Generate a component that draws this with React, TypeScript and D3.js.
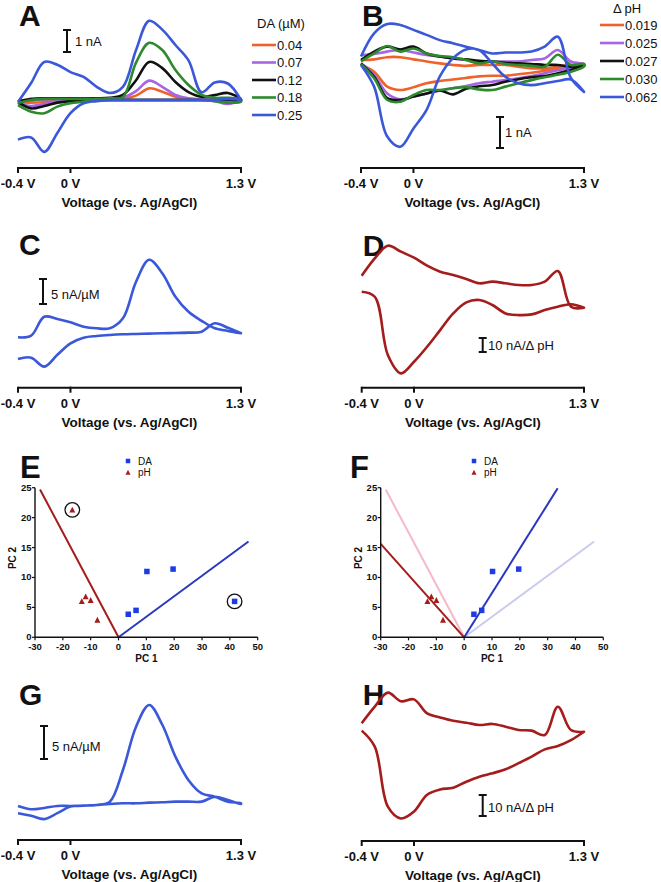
import React from 'react';
import * as d3 from 'd3';

const FONT = 'Liberation Sans, Arial, Helvetica, sans-serif';

// ---------- shared voltammetry grid ----------
const voltages = [-0.4, -0.3, -0.2, -0.1, 0, 0.1, 0.2, 0.3, 0.4, 0.5, 0.6, 0.7, 0.8, 0.9, 1.0, 1.1, 1.2, 1.3];
const voltTicks = [-0.4, 0, 1.3];
const voltTickLabels = ['-0.4 V', '0 V', '1.3 V'];
const voltTitle = 'Voltage (vs. Ag/AgCl)';

// ---------- Panel A: DA (µM) ----------
const daLabels = ['0.04', '0.07', '0.12', '0.18', '0.25'];
const aUp004 = [-0.05, 0, 0.02, 0.02, 0.02, 0.02, 0.02, 0.02, 0.05, 0.2, 0.53, 0.38, 0.15, 0.05, 0.02, 0.02, 0.02, 0];
const aLo004 = [-0.1, -0.12, -0.1, -0.05, -0.02, 0, 0, 0, 0, 0, 0, 0, 0, 0, 0, 0, 0, 0];
const aUp007 = [-0.05, 0, 0.03, 0.03, 0.03, 0.03, 0.03, 0.03, 0.1, 0.4, 0.88, 0.6, 0.23, 0.08, 0.03, 0.02, 0, 0];
const aLo007 = [-0.15, -0.27, -0.18, -0.08, -0.03, 0, 0, 0, 0, 0, 0, 0, 0, 0, 0, -0.05, -0.18, 0];
const aUp012 = [-0.08, 0.05, 0.08, 0.08, 0.08, 0.08, 0.08, 0.1, 0.23, 0.9, 1.73, 1.45, 0.82, 0.36, 0.15, 0.22, 0.32, 0.03];
const aLo012 = [-0.1, -0.38, -0.27, -0.12, -0.05, 0, 0, 0, 0, 0, 0, 0, 0, 0, 0, 0, 0, 0];
const aUp018 = [-0.14, 0, 0.05, 0.05, 0.05, 0.05, 0.05, 0.08, 0.14, 1.7, 2.6, 2.27, 1.36, 0.68, 0.23, 0.1, 0.1, 0];
const aLo018 = [-0.23, -0.53, -0.6, -0.3, -0.15, -0.08, 0, 0, 0, 0, 0, 0, 0, 0, 0, -0.05, -0.12, -0.08];
const aUp025 = [-0.09, 0.77, 1.73, 1.6, 1.27, 1.05, 0.6, 0.32, 0.6, 2.27, 3.6, 3.2, 2.5, 1.8, 0.35, 0.8, 0.75, 0];
const aLo025 = [-1.8, -1.7, -2.36, -1.5, -0.6, -0.15, -0.05, 0, 0, 0, 0, 0, 0, 0, 0, 0, 0.05, 0];

// ---------- Panel B: Δ pH ----------
const phLabels = ['0.019', '0.025', '0.027', '0.030', '0.062'];
const bUp019 = [0.13, 0.15, 0.22, 0.22, 0.15, 0.08, 0.02, -0.03, -0.06, -0.03, -0.03, -0.03, -0.09, -0.14, -0.14, -0.09, -0.03, 0];
const bLo019 = [-0.03, -0.25, -0.73, -0.84, -0.75, -0.62, -0.55, -0.5, -0.45, -0.4, -0.38, -0.38, -0.33, -0.28, -0.22, -0.16, -0.1, -0.03];
const bUp025 = [0.29, 0.32, 0.4, 0.45, 0.37, 0.29, 0.24, 0.18, 0.13, 0.08, 0.08, 0.08, 0.08, 0.13, 0.18, 0.45, 0.08, 0];
const bLo025 = [0.02, -0.35, -0.95, -1.14, -1.05, -0.95, -0.86, -0.78, -0.71, -0.62, -0.57, -0.52, -0.46, -0.39, -0.3, -0.2, -0.14, -0.03];
const bUp027 = [0.13, 0.4, 0.56, 0.47, 0.56, 0.34, 0.24, 0.18, 0.15, 0.1, 0.08, 0.04, 0.02, 0, -0.03, -0.03, -0.09, -0.03];
const bLo027 = [0.02, -0.41, -1.1, -1.16, -1.05, -0.95, -0.85, -0.98, -0.8, -0.72, -0.68, -0.57, -0.49, -0.43, -0.39, -0.3, -0.19, -0.06];
const bUp030 = [0.08, 0.34, 0.58, 0.4, 0.5, 0.34, 0.26, 0.22, 0.13, 0.02, 0.08, 0, -0.03, -0.06, -0.09, 0.3, -0.03, 0];
const bLo030 = [0, -0.46, -1.16, -1.22, -1.0, -0.84, -0.84, -0.78, -0.75, -0.82, -0.84, -0.73, -0.62, -0.52, -0.43, -0.35, -0.25, -0.08];
const bUp062 = [0.24, 0.99, 1.29, 1.26, 1.1, 0.94, 0.77, 0.67, 0.56, 0.45, 0.34, 0.37, 0.37, 0.4, 0.56, 0.88, -0.45, -0.9];
const bLo062 = [-0.03, -0.73, -2.34, -2.67, -2.08, -1.48, -0.41, 0.18, 0.47, 0.45, 0.02, -0.41, -0.62, -0.68, -0.62, -0.55, -0.5, -0.9];

// ---------- Panel C: DA loading (nA/µM) ----------
const cUp = [-0.8, -0.47, 3.3, 2.87, 2.2, 1.33, 1.0, 1.0, 3.0, 10.3, 14.7, 12, 7.3, 4.3, 2.5, 1.0, 0.47, 0];
const cLo = [-5.13, -4.87, -6.67, -4.3, -2.0, -0.87, -0.53, -0.33, -0.2, -0.13, -0.07, 0, 0.07, 0.13, 0.33, 2.0, 1.1, 0];

// ---------- Panel D: pH loading (nA/ΔpH) ----------
const dUp = [22.1, 34.5, 43.6, 39.3, 35, 29.3, 25, 22.6, 19.8, 16.7, 17.9, 16.7, 15.5, 15.5, 17.9, 25.5, 0, -0.7];
const dLo = [10.7, 7.1, -34.5, -47.6, -39.3, -28.6, -16.7, -4.8, 3.1, 4.8, 1.2, -4.8, -6, -5.5, -2.4, 0, 1.7, -0.7];

// ---------- Panel G: rotated DA loading (nA/µM) ----------
const gUp = [-0.4, -0.9, -0.7, -0.4, -0.4, -0.35, -0.25, 0.25, 5.05, 11.6, 14.9, 11.9, 7.07, 3.5, 1.5, 1.0, 0.25, 0];
const gLo = [-1.5, -1.9, -2.4, -1.5, -0.5, -0.35, -0.25, -0.1, 0, 0, 0.1, 0.15, 0.25, 0.25, 0.25, 1.0, 0.5, -0.1];

// ---------- Panel H: rotated pH loading (nA/ΔpH) ----------
const hUp = [4, 11.9, 18.6, 14.5, 15.4, 8.7, 6.8, 5.2, 4.3, 3.2, 3.7, 2.4, 0.8, 0.5, -1.6, 11.9, 0.8, 0];
const hLo = [0.5, -7.1, -35.7, -41.3, -38, -30, -27.5, -26.7, -23.8, -21.4, -19.8, -17.9, -15, -11.9, -8.4, -6.8, -4, 0];

// ---------- Panels E/F: PCA scores ----------
const pc1Ticks = [-30, -20, -10, 0, 10, 20, 30, 40, 50];
const pc2Ticks = [0, 5, 10, 15, 20, 25];
const daPC1 = [3.5, 6.3, 10.2, 19.6, 41.7];
const daPC2 = [3.85, 4.5, 11.0, 11.4, 6.0];
const phPC1 = [-16.6, -13.2, -11.8, -10, -7.6];
const phPC2 = [21.3, 6.0, 6.8, 6.2, 2.9];
const eDaVector = [[0, 0], [46.7, 16.0]];
const ePhVector = [[0, 0], [-28.2, 24.7]];
const fDaVector = [[0, 0], [33.6, 24.9]];
const fPhVector = [[0, 0], [-30, 15.6]];
const eCircledDA = [4];
const eCircledPH = [0];

const COL = {
  orange: '#f0622c',
  purple: '#a765e3',
  black: '#111111',
  green: '#2d8a2d',
  blue: '#3a58d8',
  red: '#a41c1c',
  sqBlue: '#1c3be6',
  lineBlue: '#2a38c0',
  pink: '#f6b9c8',
  lavender: '#cbcbf0',
};

type Curve = { up: number[]; lo: number[]; color: string };

function cvPath(c: Curve, x: d3.ScaleLinear<number, number>, y: d3.ScaleLinear<number, number>) {
  const pts: [number, number][] = [];
  voltages.forEach((v, i) => pts.push([x(v), y(c.up[i])]));
  for (let i = voltages.length - 1; i >= 0; i--) pts.push([x(voltages[i]), y(c.lo[i])]);
  return d3.line().curve(d3.curveCatmullRom.alpha(0.5))(pts) || '';
}

type CVProps = {
  letter: string;
  letterY: number;
  x0: number;
  x1: number;
  axisY: number;
  zeroY: number;
  pxPerUnit: number;
  curves: Curve[];
  bar: { x: number; bottom: number; units: number; label: string; lx: number; ly: number };
};

function CVPanel(p: CVProps) {
  const x = d3.scaleLinear().domain([-0.4, 1.3]).range([p.x0, p.x1]);
  const y = d3.scaleLinear().domain([0, 1]).range([p.zeroY, p.zeroY - p.pxPerUnit]);
  const barTop = p.bar.bottom - (y(0) - y(p.bar.units));
  return (
    <g>
      <text x={p.x0 + 1} y={p.letterY} fontFamily={FONT} fontWeight="bold" fontSize={30} fill="#111">{p.letter}</text>
      {p.curves.map((c, i) => (
        <path key={i} d={cvPath(c, x, y)} fill="none" stroke={c.color} strokeWidth={2.6} strokeLinejoin="round" />
      ))}
      <line x1={x(-0.4)} x2={x(1.3)} y1={p.axisY} y2={p.axisY} stroke="#111" strokeWidth={2} />
      {voltTicks.map((t, i) => (
        <g key={i}>
          <line x1={x(t)} x2={x(t)} y1={p.axisY - 1} y2={p.axisY + 5} stroke="#111" strokeWidth={2} />
          <text x={x(t)} y={p.axisY + 20} textAnchor="middle" fontFamily={FONT} fontWeight="bold" fontSize={13} fill="#111">{voltTickLabels[i]}</text>
        </g>
      ))}
      <text x={(p.x0 + p.x1) / 2} y={p.axisY + 39} textAnchor="middle" fontFamily={FONT} fontWeight="bold" fontSize={13.5} fill="#111">{voltTitle}</text>
      <line x1={p.bar.x} x2={p.bar.x} y1={barTop} y2={p.bar.bottom} stroke="#111" strokeWidth={2} />
      <line x1={p.bar.x - 4} x2={p.bar.x + 4} y1={barTop} y2={barTop} stroke="#111" strokeWidth={2} />
      <line x1={p.bar.x - 4} x2={p.bar.x + 4} y1={p.bar.bottom} y2={p.bar.bottom} stroke="#111" strokeWidth={2} />
      <text x={p.bar.lx} y={p.bar.ly} fontFamily={FONT} fontSize={13} fill="#111">{p.bar.label}</text>
    </g>
  );
}

function Legend({ title, tx, ty, labels, colors, lx, y0, dy }: { title: string; tx: number; ty: number; labels: string[]; colors: string[]; lx: number; y0: number; dy: number }) {
  return (
    <g>
      <text x={tx} y={ty} fontFamily={FONT} fontSize={13} fill="#111">{title}</text>
      {labels.map((l, i) => (
        <g key={i}>
          <line x1={lx} x2={lx + 24} y1={y0 + i * dy} y2={y0 + i * dy} stroke={colors[i]} strokeWidth={2.6} />
          <text x={lx + 25} y={y0 + i * dy + 4.8} fontFamily={FONT} fontSize={13} fill="#111">{l}</text>
        </g>
      ))}
    </g>
  );
}

function Square({ cx, cy, s, fill }: { cx: number; cy: number; s: number; fill: string }) {
  return <rect x={cx - s / 2} y={cy - s / 2} width={s} height={s} fill={fill} />;
}
function Tri({ cx, cy, s, fill }: { cx: number; cy: number; s: number; fill: string }) {
  const h = s * 0.9;
  return <path d={`M${cx},${cy - h / 2 - 0.5}L${cx + s / 2},${cy + h / 2}L${cx - s / 2},${cy + h / 2}Z`} fill={fill} />;
}

type PCAProps = {
  letter: string;
  x0: number;
  x1: number;
  ox: number;
  legendX: number;
  vectors: { pts: number[][]; color: string }[];
  da: number[];
  ph: number[];
  circled: boolean;
};

function PCAPanel(p: PCAProps) {
  const x = d3.scaleLinear().domain([-30, 50]).range([p.x0, p.x1]);
  const y = d3.scaleLinear().domain([0, 25]).range([637.3, 487.7]);
  const line = d3.line();
  return (
    <g>
      <text x={p.ox + 20} y={478} fontFamily={FONT} fontWeight="bold" fontSize={31} fill="#111">{p.letter}</text>
      {/* legend */}
      <Square cx={p.legendX} cy={461} s={4.5} fill={COL.sqBlue} />
      <text x={p.legendX + 10} y={465} fontFamily={FONT} fontSize={10} fill="#111">DA</text>
      <Tri cx={p.legendX} cy={472.5} s={5} fill={COL.red} />
      <text x={p.legendX + 10} y={476} fontFamily={FONT} fontSize={10} fill="#111">pH</text>
      {/* vectors */}
      {p.vectors.map((v, i) => (
        <path key={i} d={line(v.pts.map((d) => [x(d[0]), y(d[1])] as [number, number])) || ''} stroke={v.color} strokeWidth={2} fill="none" />
      ))}
      {/* axes */}
      <line x1={x(-30)} x2={x(50)} y1={y(0)} y2={y(0)} stroke="#111" strokeWidth={1.4} />
      <line x1={x(-30)} x2={x(-30)} y1={y(0)} y2={y(25)} stroke="#111" strokeWidth={1.4} />
      {pc1Ticks.map((t) => (
        <g key={t}>
          <line x1={x(t)} x2={x(t)} y1={y(0)} y2={y(0) + 3} stroke="#111" strokeWidth={1.2} />
          <text x={x(t)} y={650} textAnchor="middle" fontFamily={FONT} fontWeight="bold" fontSize={9.5} fill="#111">{t}</text>
        </g>
      ))}
      {pc2Ticks.map((t) => (
        <g key={t}>
          <line x1={x(-30) - 3} x2={x(-30)} y1={y(t)} y2={y(t)} stroke="#111" strokeWidth={1.2} />
          <text x={x(-30) - 3.5} y={y(t) + 3} textAnchor="end" fontFamily={FONT} fontWeight="bold" fontSize={9.5} fill="#111">{t}</text>
        </g>
      ))}
      <text x={(p.x0 + p.x1) / 2} y={662} textAnchor="middle" fontFamily={FONT} fontWeight="bold" fontSize={10} fill="#111">PC 1</text>
      <text transform={`translate(${p.x0 - 19},558) rotate(-90)`} textAnchor="middle" fontFamily={FONT} fontWeight="bold" fontSize={10} fill="#111">PC 2</text>
      {/* points */}
      {p.ph.map((i) => (
        <Tri key={'p' + i} cx={x(phPC1[i])} cy={y(phPC2[i])} s={6} fill={COL.red} />
      ))}
      {p.da.map((i) => (
        <Square key={'d' + i} cx={x(daPC1[i])} cy={y(daPC2[i])} s={5.5} fill={COL.sqBlue} />
      ))}
      {p.circled && eCircledDA.map((i) => (
        <circle key={'cd' + i} cx={x(daPC1[i])} cy={y(daPC2[i])} r={7.3} fill="none" stroke="#111" strokeWidth={1.3} />
      ))}
      {p.circled && eCircledPH.map((i) => (
        <circle key={'cp' + i} cx={x(phPC1[i])} cy={y(phPC2[i])} r={7.3} fill="none" stroke="#111" strokeWidth={1.3} />
      ))}
    </g>
  );
}

export default function App() {
  const aCurves: Curve[] = [
    { up: aUp004, lo: aLo004, color: COL.orange },
    { up: aUp007, lo: aLo007, color: COL.purple },
    { up: aUp012, lo: aLo012, color: COL.black },
    { up: aUp018, lo: aLo018, color: COL.green },
    { up: aUp025, lo: aLo025, color: COL.blue },
  ];
  const bCurves: Curve[] = [
    { up: bUp019, lo: bLo019, color: COL.orange },
    { up: bUp025, lo: bLo025, color: COL.purple },
    { up: bUp027, lo: bLo027, color: COL.black },
    { up: bUp030, lo: bLo030, color: COL.green },
    { up: bUp062, lo: bLo062, color: COL.blue },
  ];
  const legendColors = [COL.orange, COL.purple, COL.black, COL.green, COL.blue];
  return (
    <svg width={661} height={882} style={{ position: 'absolute', left: 0, top: 0, background: '#fff' }}>
      <rect width={661} height={882} fill="#fff" />
      <CVPanel letter="A" letterY={26} x0={18} x1={241} axisY={168} zeroY={100} pxPerUnit={22} curves={aCurves}
        bar={{ x: 67, bottom: 52, units: 1, label: '1 nA', lx: 75, ly: 46 }} />
      <Legend title="DA (µM)" tx={257} ty={28} labels={daLabels} colors={legendColors} lx={252} y0={45} dy={17.5} />

      <CVPanel letter="B" letterY={26} x0={361} x1={584} axisY={168} zeroY={64} pxPerUnit={31} curves={bCurves}
        bar={{ x: 500, bottom: 148, units: 1, label: '1 nA', lx: 505, ly: 137 }} />
      <Legend title="Δ pH" tx={613} ty={13} labels={phLabels} colors={legendColors} lx={600} y0={25} dy={18} />

      <CVPanel letter="C" letterY={255} x0={18} x1={241} axisY={387.7} zeroY={333.3} pxPerUnit={5} curves={[{ up: cUp, lo: cLo, color: COL.blue }]}
        bar={{ x: 43, bottom: 304, units: 5, label: '5 nA/µM', lx: 51, ly: 299 }} />
      <CVPanel letter="D" letterY={256} x0={361.7} x1={584} axisY={387.7} zeroY={306.7} pxPerUnit={1.4} curves={[{ up: dUp, lo: dLo, color: COL.red }]}
        bar={{ x: 482.7, bottom: 352, units: 10, label: '10 nA/Δ pH', lx: 488, ly: 350 }} />

      <PCAPanel letter="E" x0={35} x1={257.7} ox={0} legendX={128}
        vectors={[{ pts: ePhVector, color: COL.red }, { pts: eDaVector, color: COL.lineBlue }]}
        da={[0, 1, 2, 3, 4]} ph={[0, 1, 2, 3, 4]} circled={true} />
      <PCAPanel letter="F" x0={380.7} x1={603.3} ox={330} legendX={474}
        vectors={[{ pts: ePhVector, color: COL.pink }, { pts: eDaVector, color: COL.lavender }, { pts: fPhVector, color: COL.red }, { pts: fDaVector, color: COL.lineBlue }]}
        da={[0, 1, 2, 3]} ph={[1, 2, 3, 4]} circled={false} />

      <CVPanel letter="G" letterY={705} x0={18} x1={241} axisY={840} zeroY={803.3} pxPerUnit={6.6} curves={[{ up: gUp, lo: gLo, color: COL.blue }]}
        bar={{ x: 44, bottom: 759, units: 5, label: '5 nA/µM', lx: 52, ly: 751 }} />
      <CVPanel letter="H" letterY={705} x0={361.7} x1={584} axisY={841} zeroY={731.7} pxPerUnit={2.1} curves={[{ up: hUp, lo: hLo, color: COL.red }]}
        bar={{ x: 482.7, bottom: 816, units: 10, label: '10 nA/Δ pH', lx: 488, ly: 812 }} />
    </svg>
  );
}
